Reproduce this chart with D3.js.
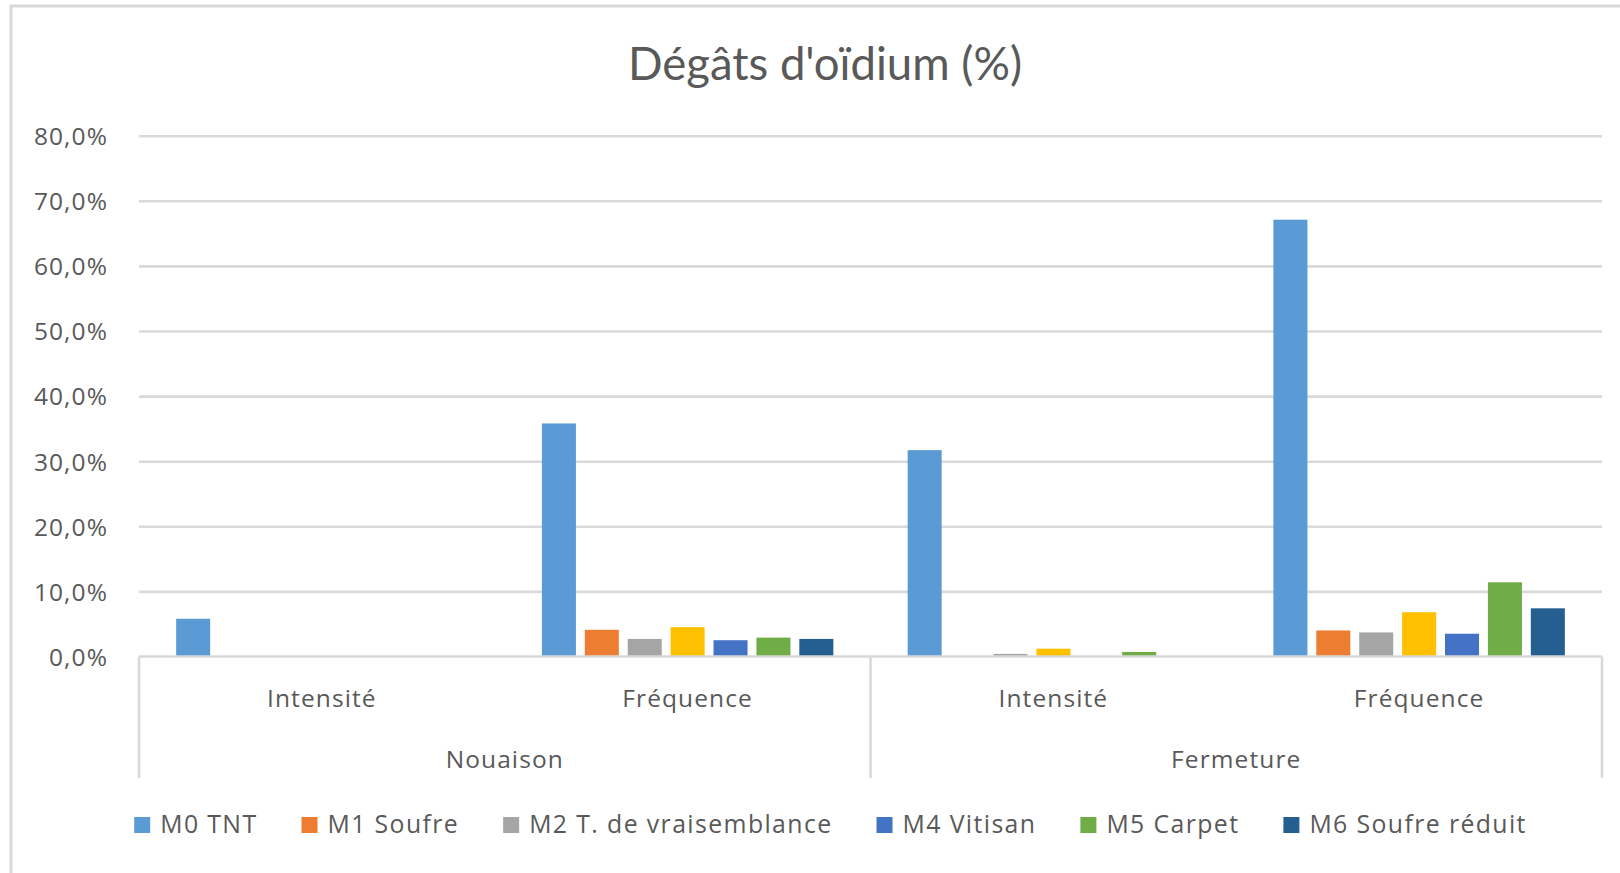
<!DOCTYPE html>
<html>
<head>
<meta charset="utf-8">
<script src="https://cdn.jsdelivr.net/npm/d3@7/dist/d3.min.js"></script>
<style>
  html, body { margin: 0; padding: 0; background: #fff; }
  svg { display: block; font-family: "Open Sans", Lato, sans-serif; }
  .lbl { font-family: "Open Sans", sans-serif; font-size: 24.5px; letter-spacing: 1.1px; }
  .leg { font-family: "Open Sans", sans-serif; font-size: 24.8px; letter-spacing: 1.4px; }
</style>
</head>
<body>
<svg id="chart" width="1620" height="873"></svg>
<script>
// ---- data ----
const title = "Dégâts d'oïdium (%)";
const categories = ["Intensité", "Fréquence", "Intensité", "Fréquence"];
const groups = ["Nouaison", "Fermeture"];
const seriesNames = ["M0 TNT", "M1 Soufre", "M2 T. de vraisemblance", "M3", "M4 Vitisan", "M5 Carpet", "M6 Soufre réduit"];
const seriesColors = ["#5B9BD5", "#ED7D31", "#A5A5A5", "#FFC000", "#4472C4", "#70AD47", "#255E91"];
const inLegend = [true, true, true, false, true, true, true];
const M0 = [5.8, 35.8, 31.7, 67.1];
const M1 = [0, 4.1, 0, 4.0];
const M2 = [0, 2.7, 0.4, 3.7];
const M3 = [0, 4.5, 1.2, 6.8];
const M4 = [0, 2.5, 0, 3.5];
const M5 = [0, 2.9, 0.7, 11.4];
const M6 = [0, 2.7, 0, 7.4];
const seriesValues = [M0, M1, M2, M3, M4, M5, M6];
const yTicks = [0, 10, 20, 30, 40, 50, 60, 70, 80];

(function () {
// ---- layout ----
const svg = d3.select("#chart");
const plotL = 139, plotR = 1602, plotT = 135.7, base = 656.5, axisBottom = 778;
const textColor = "#595959", lineColor = "#D9D9D9";

svg.append("rect").attr("x", 0).attr("y", 0).attr("width", 1620).attr("height", 873).attr("fill", "#fff");
svg.append("rect").attr("x", 11).attr("y", 6).attr("width", 1700).attr("height", 1000)
  .attr("fill", "none").attr("stroke", lineColor).attr("stroke-width", 3);

const locale = d3.formatLocale({decimal: ",", thousands: " ", grouping: [3], currency: ["", "€"]});
const fmt = v => locale.format(".1f")(v) + "%";

const y = d3.scaleLinear().domain([0, 80]).range([base, plotT]);
const idx = d3.range(categories.length);
const x0 = d3.scaleBand().domain(idx).range([plotL, plotR]).paddingInner(0).paddingOuter(0);
const x1 = d3.scaleBand().domain(d3.range(seriesNames.length)).range([0, x0.bandwidth()])
  .paddingInner(0.207).paddingOuter(0.866);
const xg = d3.scaleBand().domain(d3.range(groups.length)).range([plotL, plotR]);

// gridlines
const grid = svg.append("g").attr("transform", `translate(${plotL},0)`)
  .call(d3.axisLeft(y).tickValues(yTicks.filter(t => t > 0)).tickSize(-(plotR - plotL)).tickFormat(""));
grid.select(".domain").remove();
grid.selectAll("line").attr("stroke", lineColor).attr("stroke-width", 2.6);

// y labels
const yl = svg.append("g").attr("transform", `translate(108,0)`)
  .call(d3.axisLeft(y).tickValues(yTicks).tickSize(0).tickPadding(0).tickFormat(fmt));
yl.select(".domain").remove();
yl.attr("font-family", null).attr("font-size", null);
yl.selectAll("text").attr("class", "lbl").attr("fill", textColor).attr("dy", "0.36em");

// bars
const catG = svg.append("g").selectAll("g").data(idx).join("g")
  .attr("transform", d => `translate(${x0(d)},0)`);
catG.selectAll("rect").data(c => seriesValues.map((vals, s) => ({s, v: vals[c]})).filter(d => d.v > 0))
  .join("rect")
  .attr("x", d => x1(d.s))
  .attr("width", x1.bandwidth())
  .attr("y", d => y(d.v))
  .attr("height", d => base - y(d.v))
  .attr("fill", d => seriesColors[d.s]);

// category axis lines
svg.append("line").attr("x1", plotL).attr("x2", plotR).attr("y1", base).attr("y2", base)
  .attr("stroke", lineColor).attr("stroke-width", 2.6);
const divs = [plotL, xg(1), plotR];
svg.append("g").selectAll("line").data(divs).join("line")
  .attr("x1", d => d).attr("x2", d => d).attr("y1", base).attr("y2", axisBottom)
  .attr("stroke", lineColor).attr("stroke-width", 2.6);

// category labels
svg.append("g").selectAll("text").data(idx).join("text")
  .attr("class", "lbl")
  .attr("x", d => x0(d) + x0.bandwidth() / 2).attr("y", 707)
  .attr("text-anchor", "middle").attr("fill", textColor)
  .text(d => categories[d]);
svg.append("g").selectAll("text").data(d3.range(groups.length)).join("text")
  .attr("class", "lbl")
  .attr("x", d => xg(d) + xg.bandwidth() / 2).attr("y", 768)
  .attr("text-anchor", "middle").attr("fill", textColor)
  .text(d => groups[d]);

// title
svg.append("text").attr("x", 825).attr("y", 80).attr("text-anchor", "middle")
  .attr("fill", textColor).style("font-family", "Lato").style("font-size", "45.5px").text(title);

// legend
const legItems = d3.range(seriesNames.length).filter(i => inLegend[i]);
const leg = svg.append("g");
let lx = 0;
const itemG = leg.selectAll("g").data(legItems).join("g");
itemG.append("rect").attr("x", 0).attr("y", -7.5).attr("width", 16).attr("height", 16)
  .attr("fill", d => seriesColors[d]);
itemG.append("text").attr("class", "leg").attr("x", 26).attr("y", 0).attr("dy", "0.36em").attr("fill", textColor)
  .text(d => seriesNames[d]);
itemG.each(function () {
  const g = d3.select(this);
  const w = 26 + g.select("text").node().getComputedTextLength();
  g.attr("transform", `translate(${lx},0)`);
  lx += w + 44;
});
const totalW = lx - 44;
leg.attr("transform", `translate(${830.5 - totalW / 2},824.5)`);
})();
</script>
</body>
</html>
